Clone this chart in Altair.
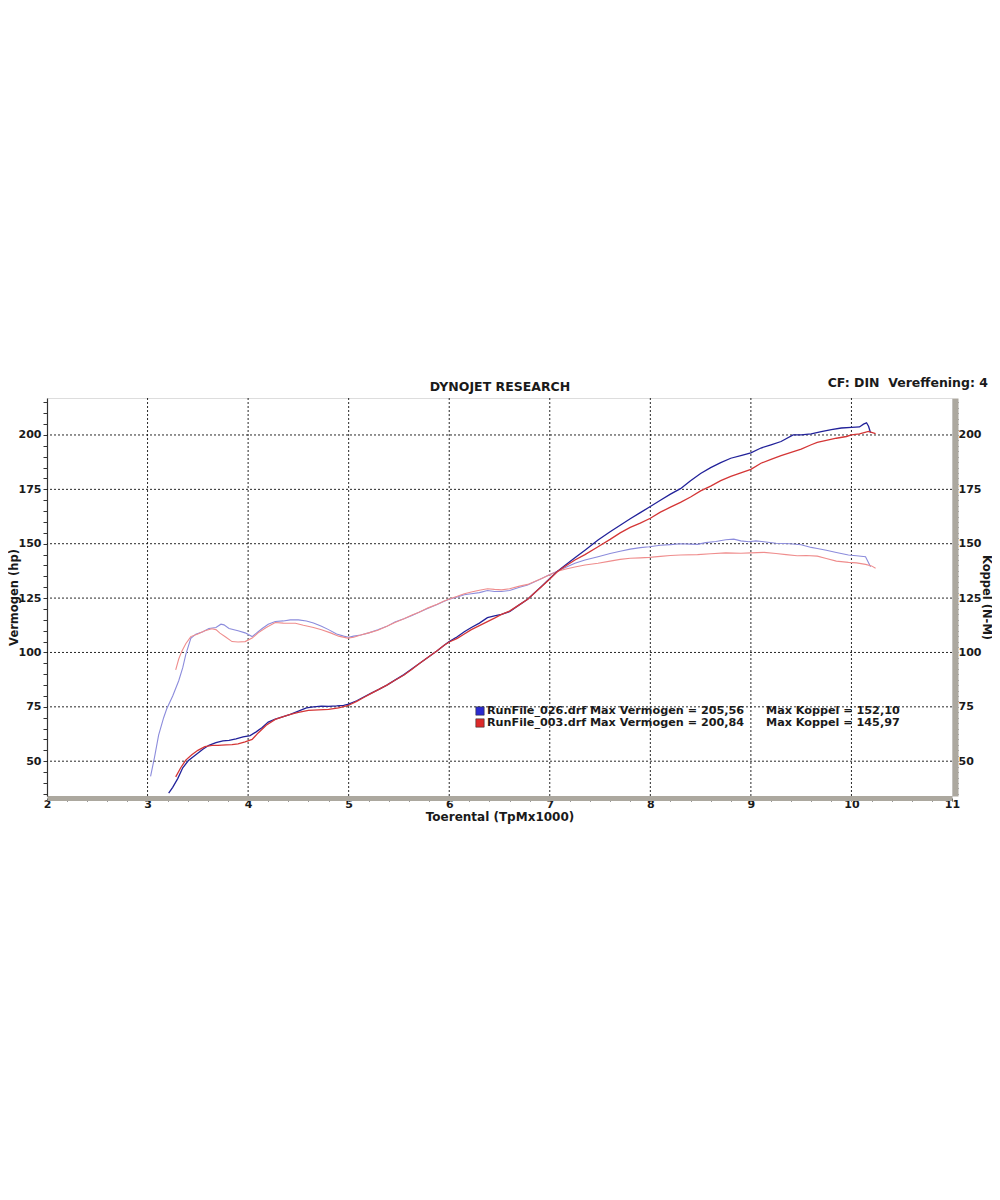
import altair as alt
import pandas as pd

# ---------------- data (read from the dyno sheet) ----------------
# RunFile_026 - power (hp)
p026_rpm = [3.21, 3.25, 3.30, 3.35, 3.41, 3.48, 3.55, 3.61, 3.68, 3.75, 3.81, 3.88, 3.95, 4.02,
            4.08, 4.14, 4.20, 4.27, 4.35, 4.42, 4.50, 4.58, 4.65, 4.73, 4.80, 4.88, 4.95, 5.00,
            5.08, 5.15, 5.22, 5.30, 5.38, 5.46, 5.55, 5.63, 5.70, 5.79, 5.88, 5.95, 6.00, 6.08,
            6.15, 6.22, 6.30, 6.38, 6.45, 6.52, 6.60, 6.70, 6.78, 6.85, 6.92, 7.00, 7.08, 7.15,
            7.25, 7.35, 7.48, 7.60, 7.70, 7.80, 7.90, 8.00, 8.10, 8.20, 8.30, 8.40, 8.50, 8.60,
            8.70, 8.80, 8.90, 9.00, 9.10, 9.20, 9.30, 9.42, 9.50, 9.60, 9.70, 9.80, 9.90, 10.00,
            10.08, 10.12, 10.15, 10.17, 10.19]
p026_hp = [35.3, 38.0, 42.0, 47.0, 50.5, 53.0, 55.5, 57.3, 58.5, 59.3, 59.6, 60.3, 61.2, 61.8,
           63.5, 65.5, 68.0, 69.3, 70.5, 71.5, 73.0, 74.5, 75.0, 75.3, 75.2, 75.4, 75.7, 76.2,
           77.8, 79.5, 81.2, 83.0, 85.0, 87.3, 89.8, 92.5, 94.8, 97.8, 100.8, 103.3, 105.0, 107.2,
           109.5, 111.5, 113.5, 116.0, 116.8, 117.5, 118.8, 122.0, 124.5, 127.5, 130.5, 134.0, 137.5, 140.0,
           143.5, 147.0, 151.7, 155.5, 158.5, 161.5, 164.3, 167.1, 170.0, 172.8, 175.3, 179.0, 182.3, 185.0,
           187.3, 189.3, 190.5, 191.8, 194.0, 195.5, 197.0, 200.0, 200.0, 200.5, 201.5, 202.5, 203.2, 203.5,
           203.7, 205.0, 205.6, 204.0, 201.0]

# RunFile_003 - power (hp)
p003_rpm = [3.28, 3.33, 3.38, 3.44, 3.50, 3.57, 3.64, 3.70, 3.78, 3.84, 3.90, 3.97, 4.04, 4.10,
            4.18, 4.27, 4.35, 4.42, 4.50, 4.60, 4.70, 4.80, 4.90, 4.99, 5.08, 5.15, 5.22, 5.30,
            5.38, 5.46, 5.55, 5.63, 5.70, 5.79, 5.88, 5.95, 6.00, 6.08, 6.15, 6.22, 6.30, 6.38,
            6.45, 6.52, 6.60, 6.70, 6.78, 6.85, 6.92, 7.00, 7.08, 7.15, 7.25, 7.35, 7.48, 7.60,
            7.70, 7.80, 7.90, 8.00, 8.10, 8.20, 8.30, 8.40, 8.50, 8.60, 8.70, 8.80, 8.90, 9.00,
            9.10, 9.20, 9.30, 9.40, 9.50, 9.60, 9.66, 9.75, 9.85, 9.95, 10.00, 10.08, 10.17, 10.24]
p003_hp = [42.8, 47.0, 50.5, 53.0, 55.0, 56.7, 57.3, 57.3, 57.5, 57.6, 58.0, 58.9, 60.0, 63.0,
           66.5, 69.2, 70.5, 71.5, 72.5, 73.4, 73.6, 73.8, 74.5, 75.5, 77.5, 79.3, 81.1, 83.0,
           85.0, 87.2, 89.6, 92.3, 94.8, 97.8, 100.8, 103.3, 104.8, 106.5, 108.5, 110.5, 112.3, 114.2,
           115.8, 117.5, 119.0, 122.0, 124.5, 127.5, 130.3, 133.8, 137.3, 139.5, 142.5, 145.0, 148.6, 152.0,
           155.0, 157.5, 159.5, 161.7, 164.5, 166.8, 169.0, 171.5, 174.3, 176.5, 179.0, 181.0, 182.6, 184.2,
           187.0, 188.8, 190.5, 192.0, 193.5, 195.5, 196.6, 197.5, 198.5, 199.3, 200.0, 200.5, 201.6, 200.6]

# RunFile_026 - torque (N-M)
t026_rpm = [3.03, 3.07, 3.11, 3.16, 3.19, 3.25, 3.31, 3.35, 3.38, 3.43, 3.48, 3.55, 3.61, 3.68,
            3.73, 3.76, 3.81, 3.90, 3.97, 4.04, 4.10, 4.14, 4.20, 4.27, 4.35, 4.42, 4.50, 4.58,
            4.65, 4.73, 4.80, 4.88, 4.95, 5.00, 5.05, 5.12, 5.20, 5.29, 5.38, 5.46, 5.55, 5.63,
            5.70, 5.79, 5.88, 5.95, 6.00, 6.08, 6.15, 6.22, 6.30, 6.38, 6.45, 6.52, 6.60, 6.70,
            6.78, 6.85, 6.92, 7.00, 7.08, 7.15, 7.25, 7.35, 7.48, 7.60, 7.70, 7.80, 7.90, 7.99,
            8.10, 8.20, 8.30, 8.40, 8.47, 8.55, 8.65, 8.75, 8.83, 8.90, 8.98, 9.05, 9.15, 9.25,
            9.39, 9.50, 9.60, 9.66, 9.75, 9.85, 9.97, 10.05, 10.14, 10.19]
t026_nm = [43.0, 52.0, 62.0, 70.0, 74.0, 80.0, 87.0, 93.0, 99.0, 106.5, 108.4, 109.5, 111.0, 111.5,
           113.0, 112.7, 111.0, 110.0, 109.0, 107.3, 109.5, 111.0, 113.0, 114.2, 114.5, 115.0, 115.0, 114.5,
           113.5, 112.0, 110.5, 108.5, 107.5, 107.0, 107.5, 108.0, 109.0, 110.4, 112.0, 114.0, 115.5, 117.0,
           118.5, 120.3, 122.0, 123.5, 124.5, 125.5, 126.5, 127.0, 127.5, 128.5, 128.0, 128.0, 128.5, 130.0,
           131.0, 132.5, 134.0, 135.8, 137.5, 139.0, 141.0, 142.5, 144.0, 145.5, 146.5, 147.5, 148.2, 148.6,
           149.3, 149.6, 150.0, 149.8, 149.7, 150.5, 151.0, 151.8, 152.1, 151.3, 150.9, 151.3, 150.8, 150.2,
           150.0, 149.5, 148.3, 147.8, 147.0, 146.0, 144.8, 144.5, 144.0, 139.4]

# RunFile_003 - torque (N-M)
t003_rpm = [3.28, 3.31, 3.34, 3.38, 3.43, 3.50, 3.57, 3.64, 3.68, 3.72, 3.78, 3.84, 3.90, 3.97,
            4.04, 4.10, 4.18, 4.27, 4.35, 4.47, 4.55, 4.65, 4.73, 4.82, 4.90, 4.99, 5.05, 5.12,
            5.20, 5.29, 5.38, 5.46, 5.55, 5.63, 5.70, 5.79, 5.88, 5.95, 6.00, 6.08, 6.15, 6.22,
            6.30, 6.38, 6.45, 6.52, 6.60, 6.70, 6.78, 6.85, 6.92, 7.00, 7.08, 7.15, 7.25, 7.35,
            7.48, 7.60, 7.70, 7.80, 7.90, 7.99, 8.10, 8.20, 8.30, 8.47, 8.60, 8.75, 8.90, 9.00,
            9.13, 9.25, 9.35, 9.46, 9.55, 9.66, 9.75, 9.85, 9.97, 10.05, 10.14, 10.20, 10.24]
t003_nm = [92.0, 97.0, 100.5, 104.0, 107.3, 108.5, 110.0, 110.9, 110.5, 108.9, 107.0, 105.0, 104.8, 105.0,
           106.6, 109.0, 111.5, 113.8, 113.5, 113.4, 112.5, 111.5, 110.4, 109.0, 107.5, 106.6, 107.0, 108.0,
           109.0, 110.2, 112.0, 113.8, 115.5, 117.2, 118.5, 120.5, 122.2, 123.7, 124.6, 125.8, 127.0, 127.8,
           128.6, 129.3, 129.0, 128.8, 129.3, 130.5, 131.3, 132.6, 134.0, 135.7, 137.3, 138.3, 139.3, 140.2,
           141.0, 142.0, 142.8, 143.3, 143.5, 143.7, 144.2, 144.6, 144.8, 145.0, 145.4, 145.8, 145.6, 145.8,
           146.0, 145.5, 145.0, 144.5, 144.6, 144.3, 143.2, 142.0, 141.4, 141.2, 140.5, 139.8, 138.7]

series_names = ["Vermogen 026", "Vermogen 003", "Koppel 026", "Koppel 003"]
series_colors = ["#22229a", "#d43636", "#8c8cdc", "#ef8d8d"]

legend_files = ["RunFile_026.drf", "RunFile_003.drf"]
legend_power = ["205,56", "200,84"]
legend_torque = ["152,10", "145,97"]
legend_colors = ["#2a2ad0", "#dd2a2a"]

x_domain = [2, 11]
y_domain = [34, 217]
x_ticks = [round(2 + 0.2 * i, 1) for i in range(46)]
left_ticks = list(range(35, 216, 5))
right_ticks = [35 + 2.5 * i for i in range(73)]
x_grid = [3, 4, 5, 6, 7, 8, 9, 10]
y_grid = [50, 75, 100, 125, 150, 175, 200]

# ---------------- build tables ----------------
def table(rpm, val, name):
    return pd.DataFrame({"rpm": rpm, "val": val, "series": name})

power_df = pd.concat([table(p026_rpm, p026_hp, series_names[0]),
                      table(p003_rpm, p003_hp, series_names[1])], ignore_index=True)
torque_df = pd.concat([table(t026_rpm, t026_nm, series_names[2]),
                       table(t003_rpm, t003_nm, series_names[3])], ignore_index=True)

FONT = "DejaVu Sans"
BAND = "#aca89f"
INK = "#1a1a1a"

color = alt.Color("series:N", scale=alt.Scale(domain=series_names, range=series_colors), legend=None)
y_scale = alt.Scale(domain=y_domain, nice=False, zero=False)

x_enc = alt.X(
    "rpm:Q",
    scale=alt.Scale(domain=x_domain, nice=False, zero=False),
    axis=alt.Axis(
        values=x_ticks,
        labelExpr="abs(datum.value - round(datum.value)) < 0.001 ? format(datum.value, 'd') : ''",
        labelOverlap=False,
        title="Toerental (TpMx1000)",
        titleFont=FONT, titleFontSize=12, titleFontWeight="bold", titleColor=INK, titlePadding=2,
        labelFont=FONT, labelFontSize=11, labelFontWeight="bold", labelColor=INK,
        labelPadding=-3, labelFlush=False,
        offset=2, domainColor=BAND, domainWidth=5,
        tickColor="#333", tickSize=3, tickWidth=1,
        grid=False,
    ),
)

# grid (dotted) drawn through the chart's scales
grid_x = alt.Chart(pd.DataFrame({"rpm": x_grid})).mark_rule(
    color="#111", strokeDash=[2, 2], strokeWidth=1, opacity=0.9
).encode(x=x_enc)
grid_y = alt.Chart(pd.DataFrame({"val": y_grid})).mark_rule(
    color="#111", strokeDash=[2, 2], strokeWidth=1, opacity=0.9
).encode(y=alt.Y("val:Q", scale=y_scale, axis=None))

power = alt.Chart(power_df).mark_line(strokeWidth=1.3).encode(
    x=x_enc,
    y=alt.Y(
        "val:Q",
        scale=y_scale,
        axis=alt.Axis(
            orient="left", values=left_ticks,
            labelExpr="datum.value % 25 === 0 ? datum.label : ''",
            labelOverlap=False,
            title="Vermogen (hp)",
            titleFont=FONT, titleFontSize=11.5, titleFontWeight="bold", titleColor=INK,
            titleX=-33, titleBaseline="middle",
            labelFont=FONT, labelFontSize=11, labelFontWeight="bold", labelColor=INK,
            labelPadding=2, labelFlush=False,
            domainColor="#333", domainWidth=1.2, tickColor="#333", tickSize=4,
            grid=False,
        ),
    ),
    color=color,
    order=alt.Order("rpm:Q"),
)

torque = alt.Chart(torque_df).mark_line(strokeWidth=1.1).encode(
    x=x_enc,
    y=alt.Y(
        "val:Q",
        scale=y_scale,
        axis=alt.Axis(
            orient="right", values=right_ticks,
            labelExpr="datum.value % 25 === 0 ? datum.label : ''",
            labelOverlap=False,
            title="Koppel (N-M)",
            titleFont=FONT, titleFontSize=11.5, titleFontWeight="bold", titleColor=INK,
            titleX=30, titleBaseline="middle",
            labelFont=FONT, labelFontSize=11, labelFontWeight="bold", labelColor=INK,
            labelPadding=0, labelFlush=False,
            offset=3, domainColor=BAND, domainWidth=6, tickColor="#444", tickSize=3,
            grid=False,
        ),
    ),
    color=color,
    order=alt.Order("rpm:Q"),
)

# ---------------- annotations ----------------
layers = [grid_x, grid_y, torque, power]

rows_y = [313, 325]
for i in range(2):
    sq = alt.Chart(pd.DataFrame({"k": [0]})).mark_point(
        shape="square", filled=True, size=70, fill=legend_colors[i], stroke="#333", strokeWidth=0.6, opacity=1
    ).encode(x=alt.value(433), y=alt.value(rows_y[i]))
    t1 = alt.Chart(pd.DataFrame({"txt": [f"{legend_files[i]} Max Vermogen = {legend_power[i]}"]})).mark_text(
        align="left", baseline="middle", font=FONT, fontSize=11.2, fontWeight="bold", color=INK
    ).encode(x=alt.value(440), y=alt.value(rows_y[i]), text="txt:N")
    t2 = alt.Chart(pd.DataFrame({"txt": [f"Max Koppel = {legend_torque[i]}"]})).mark_text(
        align="left", baseline="middle", font=FONT, fontSize=11.2, fontWeight="bold", color=INK
    ).encode(x=alt.value(719), y=alt.value(rows_y[i]), text="txt:N")
    layers += [sq, t1, t2]

head = alt.Chart(pd.DataFrame({"txt": ["DYNOJET RESEARCH"]})).mark_text(
    align="center", baseline="middle", font=FONT, fontSize=12.5, fontWeight="bold", color=INK
).encode(x=alt.value(453), y=alt.value(-11), text="txt:N")
cf = alt.Chart(pd.DataFrame({"txt": ["CF: DIN\u00a0 Vereffening: 4"]})).mark_text(
    align="right", baseline="middle", font=FONT, fontSize=12.5, fontWeight="bold", color=INK
).encode(x=alt.value(941), y=alt.value(-15), text="txt:N")
layers += [head, cf]

chart = alt.layer(*layers).resolve_scale(y="independent").properties(
    width=905,
    height=398,
    autosize=alt.AutoSizeParams(type="none"),
    padding={"left": 39, "top": 390, "right": 40, "bottom": 60},
).configure_view(
    stroke="#3a3a3a", strokeWidth=1.2, cornerRadius=5
).configure(background="white")

chart.save("out.html", embed_options={"renderer": "svg", "actions": False})
